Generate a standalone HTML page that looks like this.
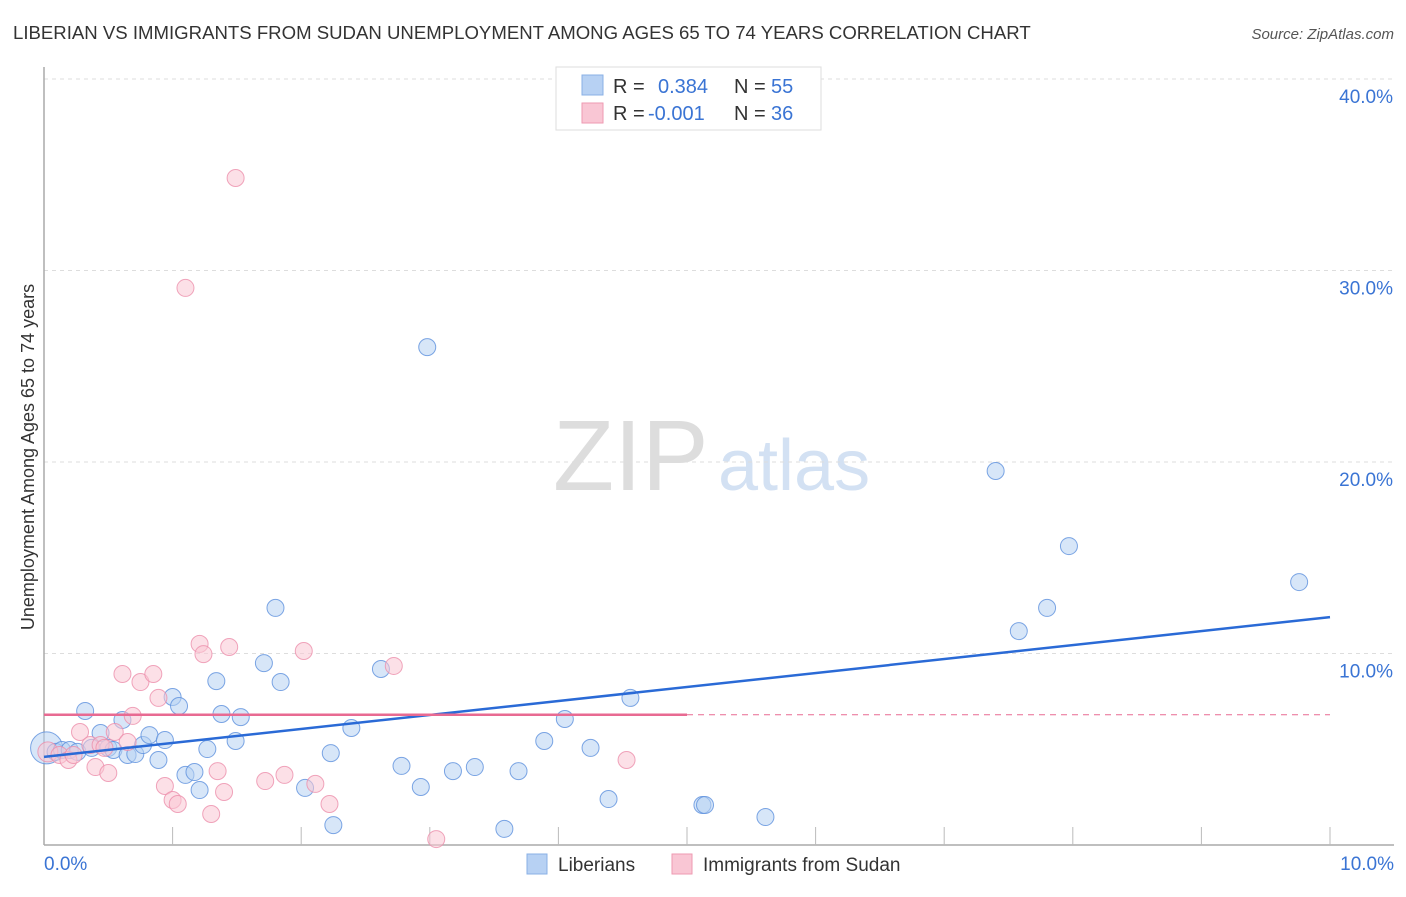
<!DOCTYPE html>
<html><head><meta charset="utf-8"><style>
body{margin:0;background:#fff;font-family:"Liberation Sans",sans-serif;}
svg text{font-family:"Liberation Sans",sans-serif;}
</style></head><body>
<svg id="chart" width="1406" height="892" xmlns="http://www.w3.org/2000/svg">
<text x="13" y="39" font-size="18.6" fill="#333">LIBERIAN VS IMMIGRANTS FROM SUDAN UNEMPLOYMENT AMONG AGES 65 TO 74 YEARS CORRELATION CHART</text>
<text x="1394" y="39" font-size="15" fill="#555" text-anchor="end" font-style="italic">Source: ZipAtlas.com</text>
<g>
<text x="553" y="490" font-size="100" fill="#ddd" font-family="Liberation Serif,serif">ZIP</text>
<text x="718" y="490" font-size="72" fill="#d3e1f3">atlas</text>
</g>
<g id="grid"></g>
<g id="axes"></g>
<g id="points"></g>
<g id="trends"></g>
<text transform="translate(34,457) rotate(-90)" font-size="18" fill="#333" text-anchor="middle">Unemployment Among Ages 65 to 74 years</text>
<g>
<rect x="556" y="67" width="265" height="63" fill="#fff" stroke="#ddd"/>
<rect x="582" y="75" width="21" height="20" fill="#b7d1f3" stroke="#8ab0e6"/>
<rect x="582" y="103" width="21" height="20" fill="#f9c6d4" stroke="#ee9ab2"/>
<text x="613" y="93" font-size="20" fill="#333">R =</text><text x="658" y="93" font-size="20" fill="#3a74d4">0.384</text>
<text x="734" y="93" font-size="20" fill="#333">N =</text><text x="771" y="93" font-size="20" fill="#3a74d4">55</text>
<text x="613" y="120" font-size="20" fill="#333">R =</text><text x="648" y="120" font-size="20" fill="#3a74d4">-0.001</text>
<text x="734" y="120" font-size="20" fill="#333">N =</text><text x="771" y="120" font-size="20" fill="#3a74d4">36</text>
</g>
<g>
<rect x="527" y="854" width="20" height="20" fill="#b7d1f3" stroke="#8ab0e6"/>
<text x="558" y="871" font-size="19" fill="#333">Liberians</text>
<rect x="672" y="854" width="20" height="20" fill="#f9c6d4" stroke="#ee9ab2"/>
<text x="703" y="871" font-size="19" fill="#333">Immigrants from Sudan</text>
</g>
</svg>
<script>
const yTicks=[10,20,30,40];
const yTickLabels=["10.0%","20.0%","30.0%","40.0%"];
const xEndLabels=["0.0%","10.0%"];
const blueX=[0.02,0.09,0.14,0.20,0.26,0.32,0.37,0.44,0.50,0.54,0.61,0.65,0.71,0.77,0.82,0.89,0.94,1.00,1.05,1.10,1.17,1.21,1.27,1.34,1.38,1.49,1.53,1.71,1.80,1.84,2.03,2.23,2.25,2.39,2.62,2.78,2.93,2.98,3.18,3.35,3.58,3.69,3.89,4.05,4.25,4.39,4.56,5.12,5.14,5.61,7.40,7.58,7.80,7.97,9.76];
const blueY=[5.07,4.86,4.96,4.96,4.86,7.00,5.07,5.85,5.07,4.96,6.53,4.70,4.75,5.22,5.74,4.44,5.48,7.73,7.26,3.66,3.81,2.87,5.01,8.56,6.84,5.43,6.68,9.50,12.38,8.51,2.98,4.80,1.04,6.11,9.19,4.13,3.03,26.0,3.86,4.07,0.84,3.86,5.43,6.58,5.07,2.40,7.68,2.09,2.09,1.46,19.53,11.17,12.38,15.61,13.73];
const pinkX=[0.03,0.12,0.19,0.23,0.28,0.36,0.40,0.44,0.47,0.50,0.55,0.61,0.65,0.69,0.75,0.85,0.89,0.94,1.00,1.04,1.10,1.21,1.24,1.30,1.35,1.40,1.44,1.49,1.72,1.87,2.02,2.11,2.22,2.72,3.05,4.53];
const pinkY=[4.86,4.70,4.44,4.70,5.90,5.22,4.07,5.22,5.07,3.76,5.90,8.93,5.38,6.74,8.51,8.93,7.68,3.08,2.35,2.14,29.09,10.50,9.97,1.62,3.86,2.77,10.34,34.83,3.34,3.66,10.13,3.19,2.14,9.35,0.31,4.44];
const blueTrend=[0,4.6,10,11.9];
const pinkTrend=[0,6.8,10,6.8];
const NS="http://www.w3.org/2000/svg";
const X0=44,X1=1330,Y0=845,PX=191.5;
function sx(v){return X0+(v/10)*(X1-X0);}
function sy(v){return Y0-v/10*PX;}
function mk(t,a,p){const e=document.createElementNS(NS,t);for(const k in a)e.setAttribute(k,a[k]);document.getElementById(p).appendChild(e);return e;}
yTicks.forEach((t,i)=>{
 const l=mk('line',{x1:X0,x2:1392,y1:sy(t),y2:sy(t),stroke:'#ddd','stroke-dasharray':'4,4'},'grid');
 
 
 const tx=mk('text',{x:1393,y:sy(t)+24,'font-size':19,fill:'#3a74d4','text-anchor':'end'},'axes');
 tx.textContent=yTickLabels[i];
 
 
});
let a=mk('line',{x1:X0,x2:X0,y1:67,y2:Y0,stroke:'#aaa','stroke-width':1.5},'axes');


a=mk('line',{x1:X0,x2:1394,y1:Y0,y2:Y0,stroke:'#aaa','stroke-width':1.5},'axes');


for(let i=1;i<=10;i++){
 const t=mk('line',{x1:sx(i),x2:sx(i),y1:Y0-18,y2:Y0,stroke:'#bbb'},'axes');
 
 
}
[[0,'start',44],[10,'end',1394]].forEach((d,i)=>{
 const t=mk('text',{x:d[2],y:870,'font-size':19,fill:'#3a74d4','text-anchor':d[1]},'axes');
 t.textContent=xEndLabels[i];
 
 
});
function pts(xs,ys,fill,stroke,name,bigR){
 xs.forEach((x,i)=>{
  const c=mk('circle',{cx:sx(x),cy:sy(ys[i]),r:i===0?bigR:8.5,fill:fill,'fill-opacity':0.55,stroke:stroke,'stroke-opacity':0.8},'points');
  
  
 });
}
pts(blueX,blueY,'#b7d1f3','#5d90dd','liberian-point',16);
pts(pinkX,pinkY,'#f9c6d4','#ec8fab','sudan-point',10);
let l=mk('line',{x1:sx(blueTrend[0]),y1:sy(blueTrend[1]),x2:sx(blueTrend[2]),y2:sy(blueTrend[3]),stroke:'#2a6ad6','stroke-width':2.5},'trends');


l=mk('line',{x1:sx(pinkTrend[0]),y1:sy(pinkTrend[1]),x2:sx(5),y2:sy(pinkTrend[1]+(pinkTrend[3]-pinkTrend[1])/2),stroke:'#e86a92','stroke-width':2.5},'trends');


l=mk('line',{x1:sx(5),y1:sy(pinkTrend[1]+(pinkTrend[3]-pinkTrend[1])/2),x2:sx(pinkTrend[2]),y2:sy(pinkTrend[3]),stroke:'#e86a92','stroke-width':1,'stroke-dasharray':'6,5'},'trends');


</script>
</body></html>
